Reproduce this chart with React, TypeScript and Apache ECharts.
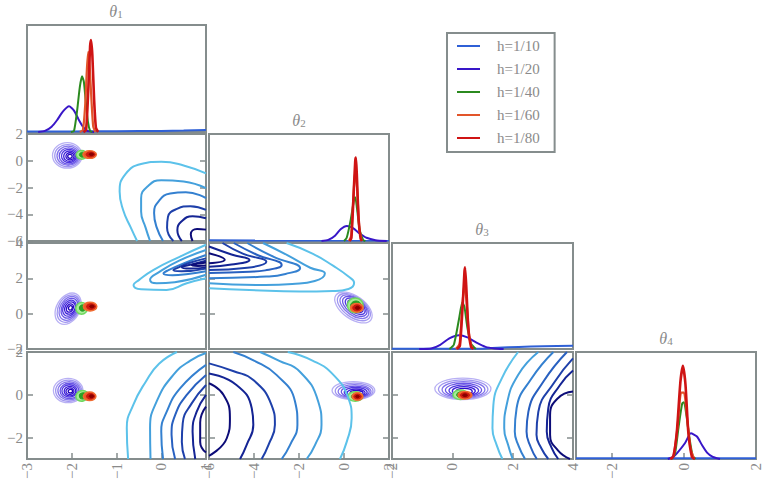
import React, { useEffect, useRef } from 'react';
import * as echarts from 'echarts';

// ---------- legend / series identities ----------
const H_NAMES = ['h=1/10', 'h=1/20', 'h=1/40', 'h=1/60', 'h=1/80'];
const H_COLORS = ['#2f60d6', '#3816c8', '#2b8a1f', '#e2552a', '#cf1414'];
const H_WIDTHS = [2, 2, 2, 2.2, 2.6];

// ---------- axis ranges per parameter ----------
const VAR_RANGE = [[-3, 1], [-6, 2], [-2, 4], [-3, 2]];
const VAR_STEP = [1, 2, 2, 2];
const TITLES = ['1', '2', '3', '4'];

// ---------- marginal densities (x, relative height) ----------
const M1_B = [[-3, 0.004], [-2, 0.005], [-1, 0.007], [0, 0.01], [0.5, 0.013], [1, 0.018]];
const M1_P = [[-2.75, 0], [-2.6, 0.01], [-2.45, 0.05], [-2.33, 0.11], [-2.2, 0.19], [-2.06, 0.24], [-1.95, 0.2], [-1.85, 0.12], [-1.75, 0.05], [-1.65, 0.01], [-1.5, 0]];
const M1_G = [[-2.02, 0], [-1.95, 0.01], [-1.88, 0.2], [-1.82, 0.42], [-1.77, 0.52], [-1.73, 0.47], [-1.69, 0.3], [-1.64, 0.1], [-1.59, 0.01], [-1.54, 0]];
const M1_O = [[-1.82, 0], [-1.75, 0.02], [-1.7, 0.25], [-1.66, 0.6], [-1.63, 0.75], [-1.6, 0.62], [-1.56, 0.3], [-1.52, 0.05], [-1.47, 0]];
const M1_R = [[-1.74, 0], [-1.68, 0.02], [-1.63, 0.4], [-1.59, 0.8], [-1.57, 0.86], [-1.54, 0.72], [-1.5, 0.3], [-1.46, 0.04], [-1.41, 0]];

const M2_B = [[-6, 0.006], [2, 0.004]];
const M2_P = [[-1.0, 0], [-0.7, 0.01], [-0.4, 0.05], [-0.15, 0.11], [0.13, 0.14], [0.4, 0.12], [0.7, 0.07], [1.0, 0.03], [1.4, 0.008], [1.9, 0]];
const M2_G = [[0.0, 0], [0.12, 0.03], [0.3, 0.2], [0.45, 0.39], [0.5, 0.41], [0.58, 0.3], [0.7, 0.1], [0.85, 0.01], [0.95, 0]];
const M2_O = [[0.22, 0], [0.32, 0.05], [0.42, 0.42], [0.5, 0.66], [0.58, 0.5], [0.68, 0.12], [0.78, 0]];
const M2_R = [[0.25, 0], [0.33, 0.03], [0.43, 0.45], [0.5, 0.75], [0.53, 0.78], [0.57, 0.62], [0.65, 0.2], [0.74, 0.02], [0.8, 0]];

const M3_B = [[-2, 0.002], [1.0, 0.003], [1.5, 0.012], [2.2, 0.02], [3, 0.026], [4, 0.03]];
const M3_P = [[-1.1, 0], [-0.7, 0.005], [-0.4, 0.04], [-0.1, 0.1], [0.22, 0.13], [0.5, 0.11], [0.8, 0.06], [1.1, 0.02], [1.4, 0.005], [1.7, 0]];
const M3_G = [[-0.1, 0], [0.05, 0.04], [0.22, 0.28], [0.33, 0.44], [0.4, 0.4], [0.5, 0.2], [0.62, 0.05], [0.78, 0]];
const M3_O = [[0.12, 0], [0.24, 0.05], [0.33, 0.4], [0.4, 0.62], [0.47, 0.45], [0.56, 0.12], [0.66, 0]];
const M3_R = [[0.15, 0], [0.25, 0.03], [0.34, 0.4], [0.4, 0.72], [0.42, 0.77], [0.46, 0.6], [0.53, 0.2], [0.62, 0.02], [0.7, 0]];

const M4_B = [[-3, 0.008], [2, 0.008]];
const M4_P = [[-0.45, 0], [-0.3, 0.02], [-0.18, 0.06], [0.03, 0.15], [0.19, 0.24], [0.36, 0.21], [0.5, 0.13], [0.64, 0.06], [0.8, 0.02], [1.0, 0]];
const M4_G = [[-0.35, 0], [-0.25, 0.05], [-0.15, 0.3], [-0.05, 0.52], [0.0, 0.53], [0.07, 0.4], [0.15, 0.2], [0.24, 0.03], [0.32, 0]];
const M4_O = [[-0.36, 0], [-0.28, 0.04], [-0.18, 0.3], [-0.08, 0.62], [0.0, 0.62], [0.08, 0.4], [0.18, 0.1], [0.28, 0]];
const M4_R = [[-0.38, 0], [-0.3, 0.02], [-0.2, 0.25], [-0.1, 0.72], [-0.03, 0.87], [0.04, 0.7], [0.12, 0.25], [0.22, 0.02], [0.3, 0]];

const MARGINALS = [
  [M1_B, M1_P, M1_G, M1_O, M1_R],
  [M2_B, M2_P, M2_G, M2_O, M2_R],
  [M3_B, M3_P, M3_G, M3_O, M3_R],
  [M4_B, M4_P, M4_G, M4_O, M4_R],
];

// ---------- h=1/10 contour levels (outer -> inner), per pair panel ----------
const C10 = [
  [[1, -0.95], [0.5, -0.35], [0, -0.08], [-0.45, -0.25], [-0.8, -1.0], [-0.93, -2.3], [-0.85, -3.7], [-0.68, -5.0], [-0.54, -6]],
  [[1, -2.05], [0.5, -1.55], [0, -1.45], [-0.3, -1.9], [-0.45, -2.8], [-0.45, -3.8], [-0.35, -5.0], [-0.25, -6]],
  [[1, -2.8], [0.55, -2.35], [0.2, -2.45], [-0.05, -3.0], [-0.16, -3.9], [-0.1, -5.0], [0.04, -6]],
  [[1, -3.68], [0.65, -3.4], [0.35, -3.6], [0.15, -4.2], [0.13, -5.0], [0.27, -6]],
  [[1, -4.3], [0.7, -4.15], [0.45, -4.55], [0.36, -5.2], [0.46, -6]],
  [[1, -5.15], [0.8, -5.1], [0.66, -5.5], [0.7, -6]],
];
const C20 = [
  [[1, 3.9], [0.42, 3.23], [-0.18, 2.47], [-0.5, 1.9], [-0.62, 1.62], [-0.45, 1.38], [0.12, 1.34], [0.57, 1.72], [1, 2.0]],
  [[1, 3.6], [0.4, 3.0], [-0.05, 2.35], [-0.25, 1.92], [-0.1, 1.72], [0.3, 1.78], [1, 2.2]],
  [[1, 3.32], [0.5, 2.85], [0.15, 2.45], [0.05, 2.28], [0.25, 2.18], [0.6, 2.25], [1, 2.4]],
  [[1, 3.13], [0.6, 2.85], [0.35, 2.58], [0.27, 2.47], [0.45, 2.4], [1, 2.55]],
  [[1, 3.0], [0.7, 2.8], [0.46, 2.63], [0.65, 2.55], [1, 2.62]],
  [[1, 2.9], [0.8, 2.82], [0.68, 2.75], [0.82, 2.7], [1, 2.72]],
];
const C30 = [
  [[0.35, 2], [-0.05, 1.45], [-0.35, 0.6], [-0.62, -0.45], [-0.77, -1.55], [-0.74, -3]],
  [[1, 1.95], [0.65, 1.6], [0.27, 0.93], [-0.1, -0.3], [-0.25, -1.55], [-0.24, -3]],
  [[1, 1.4], [0.42, 0.3], [0.12, -0.8], [0.0, -1.72], [0.04, -3]],
  [[1, 0.93], [0.57, 0], [0.31, -0.95], [0.23, -1.87], [0.31, -3]],
  [[1, 0.46], [0.68, -0.4], [0.48, -1.33], [0.46, -2.2], [0.53, -3]],
  [[1, 0], [0.79, -0.8], [0.7, -1.72], [0.76, -3]],
  [[1, -0.55], [0.87, -1.3], [0.87, -2.2], [1, -2.7]],
];
const C21 = [
  [[-2.55, 4], [-1.4, 3.4], [-0.47, 2.7], [0.2, 2.1], [0.45, 1.75], [0.2, 1.4], [-0.5, 1.28], [-1.96, 1.25], [-4.2, 1.34], [-6, 1.44]],
  [[-3.6, 4], [-2.5, 3.3], [-1.5, 2.6], [-0.85, 2.28], [-1.3, 1.85], [-2.3, 1.68], [-3.5, 1.62], [-6, 1.72]],
  [[-4.3, 4], [-3.1, 3.2], [-1.95, 2.57], [-2.6, 2.25], [-3.45, 2.1], [-6, 2.0]],
  [[-4.9, 4], [-3.9, 3.35], [-2.77, 2.76], [-3.5, 2.45], [-4.2, 2.37], [-6, 2.3]],
  [[-5.4, 4], [-4.5, 3.4], [-3.45, 2.94], [-4.3, 2.6], [-6, 2.47]],
  [[-6, 3.8], [-5, 3.35], [-4.2, 3.04], [-5, 2.78], [-6, 2.66]],
  [[-6, 3.42], [-5.3, 3.05], [-6, 2.85]],
];
const C31 = [
  [[-2.5, 2], [-1.4, 1.6], [-0.47, 0.93], [0.19, -0.15], [0.34, -1.1], [0.12, -2.2], [-0.18, -3]],
  [[-3.73, 2], [-2.9, 1.6], [-1.96, 1.08], [-1.15, -0.3], [-1.0, -1.4], [-1.29, -2.35], [-1.66, -3]],
  [[-4.92, 2], [-4, 1.6], [-3.0, 0.93], [-2.18, -0.3], [-2.07, -1.4], [-2.4, -2.35], [-2.77, -3]],
  [[-6, 1.47], [-4.9, 1.1], [-4.03, 0.69], [-3.22, -0.48], [-3.07, -1.4], [-3.36, -2.35], [-3.66, -3]],
  [[-6, 1.0], [-4.78, 0.46], [-4.1, -0.63], [-4.03, -1.4], [-4.33, -2.35], [-4.62, -3]],
  [[-6, 0.54], [-5.36, 0], [-5.07, -1.1], [-5.21, -2.03], [-6, -2.85]],
];
const C32 = [
  [[2.18, 2], [1.64, 0.77], [1.36, -0.48], [1.33, -1.56], [1.47, -2.35], [1.66, -3]],
  [[2.85, 2], [2.18, 0.93], [1.8, -0.48], [1.72, -1.56], [1.85, -2.35], [2.0, -3]],
  [[3.35, 2], [2.63, 0.77], [2.13, -0.63], [2.07, -1.72], [2.2, -2.4], [2.41, -3]],
  [[3.8, 2], [3.02, 0.62], [2.52, -0.8], [2.46, -1.72], [2.6, -2.45], [2.8, -3]],
  [[4, 1.7], [3.4, 0.62], [2.85, -0.8], [2.79, -1.87], [2.95, -2.5], [3.18, -3]],
  [[4, 1.14], [3.57, 0.46], [3.18, -0.63], [3.13, -1.72], [3.3, -2.5], [3.51, -3]],
  [[4, 0.15], [3.5, -0.16], [3.24, -0.95], [3.24, -1.87], [3.5, -2.6], [3.9, -3]],
];

// ---------- fine-h contour rings: [cx, cy, rx, ry, rotationDeg, level] ----------
const B10_P = [[-2.1, 0.4, 0.33, 0.95, 0, 0], [-2.09, 0.38, 0.29, 0.83, 0, 1], [-2.08, 0.37, 0.25, 0.72, 0, 2], [-2.07, 0.36, 0.21, 0.61, 0, 3], [-2.06, 0.35, 0.17, 0.5, 0, 4], [-2.05, 0.34, 0.13, 0.39, 0, 5], [-2.04, 0.33, 0.09, 0.27, 0, 6], [-2.04, 0.33, 0.05, 0.15, 0, 7]];
const B10_G = [[-1.78, 0.44, 0.12, 0.32, 0, 0], [-1.76, 0.45, 0.07, 0.19, 0, 1]];
const B10_R = [[-1.6, 0.46, 0.15, 0.28, 0, 0], [-1.58, 0.47, 0.1, 0.19, 0, 1], [-1.56, 0.48, 0.05, 0.1, 0, 2]];

const B20_P = [[-2.08, 0.28, 0.26, 0.95, -30, 0], [-2.07, 0.29, 0.23, 0.83, -30, 1], [-2.06, 0.3, 0.2, 0.72, -30, 2], [-2.05, 0.31, 0.17, 0.6, -30, 3], [-2.05, 0.31, 0.14, 0.48, -30, 4], [-2.04, 0.32, 0.11, 0.37, -30, 5], [-2.04, 0.32, 0.07, 0.25, -30, 6], [-2.03, 0.33, 0.04, 0.13, -30, 7]];
const B20_G = [[-1.78, 0.3, 0.13, 0.33, 0, 0], [-1.76, 0.32, 0.07, 0.18, 0, 1]];
const B20_R = [[-1.59, 0.4, 0.15, 0.25, 0, 0], [-1.57, 0.4, 0.1, 0.16, 0, 1], [-1.55, 0.41, 0.05, 0.08, 0, 2]];

const B30_P = [[-2.08, 0.2, 0.33, 0.57, 0, 0], [-2.07, 0.19, 0.29, 0.5, 0, 1], [-2.06, 0.19, 0.25, 0.43, 0, 2], [-2.05, 0.18, 0.21, 0.36, 0, 3], [-2.05, 0.18, 0.17, 0.29, 0, 4], [-2.04, 0.17, 0.13, 0.22, 0, 5], [-2.04, 0.17, 0.09, 0.15, 0, 6], [-2.03, 0.17, 0.05, 0.08, 0, 7]];
const B30_G = [[-1.77, -0.05, 0.14, 0.24, 20, 0], [-1.75, -0.05, 0.08, 0.14, 20, 1]];
const B30_R = [[-1.6, -0.07, 0.14, 0.2, 0, 0], [-1.58, -0.07, 0.09, 0.13, 0, 1], [-1.56, -0.07, 0.05, 0.07, 0, 2]];

const B21_P = [[0.42, 0.35, 0.95, 0.65, -35, 0], [0.44, 0.37, 0.84, 0.57, -35, 1], [0.46, 0.39, 0.73, 0.49, -35, 2], [0.48, 0.41, 0.62, 0.42, -35, 3], [0.5, 0.42, 0.51, 0.34, -35, 4], [0.51, 0.43, 0.4, 0.27, -35, 5], [0.52, 0.44, 0.29, 0.19, -35, 6], [0.53, 0.45, 0.18, 0.12, -35, 7]];
const B21_G = [[0.5, 0.47, 0.35, 0.42, 0, 0], [0.53, 0.44, 0.24, 0.28, 0, 1]];
const B21_R = [[0.57, 0.33, 0.28, 0.25, 0, 0], [0.58, 0.33, 0.19, 0.17, 0, 1], [0.6, 0.33, 0.1, 0.09, 0, 2]];

const B31_P = [[0.42, 0.2, 0.95, 0.42, 0, 0], [0.45, 0.18, 0.84, 0.37, 0, 1], [0.47, 0.16, 0.73, 0.32, 0, 2], [0.5, 0.14, 0.62, 0.27, 0, 3], [0.52, 0.12, 0.51, 0.22, 0, 4], [0.54, 0.1, 0.4, 0.17, 0, 5], [0.56, 0.08, 0.29, 0.12, 0, 6]];
const B31_G = [[0.5, -0.08, 0.33, 0.22, 0, 0], [0.55, -0.08, 0.22, 0.15, 0, 1]];
const B31_R = [[0.6, -0.08, 0.24, 0.17, 0, 0], [0.6, -0.08, 0.16, 0.11, 0, 1], [0.6, -0.08, 0.08, 0.06, 0, 2]];

const B32_P = [[0.35, 0.28, 0.93, 0.5, 0, 0], [0.36, 0.26, 0.82, 0.44, 0, 1], [0.37, 0.24, 0.71, 0.38, 0, 2], [0.37, 0.22, 0.6, 0.32, 0, 3], [0.38, 0.2, 0.49, 0.26, 0, 4], [0.38, 0.18, 0.38, 0.2, 0, 5], [0.39, 0.16, 0.27, 0.14, 0, 6]];
const B32_G = [[0.27, 0.0, 0.25, 0.22, 0, 0], [0.3, 0.0, 0.16, 0.14, 0, 1]];
const B32_R = [[0.42, -0.02, 0.23, 0.18, 0, 0], [0.42, -0.02, 0.15, 0.12, 0, 1], [0.42, -0.02, 0.08, 0.06, 0, 2]];

const PAIRS: Record<string, any> = {
  '10': { c: C10, p: B10_P, g: B10_G, r: B10_R },
  '20': { c: C20, p: B20_P, g: B20_G, r: B20_R },
  '30': { c: C30, p: B30_P, g: B30_G, r: B30_R },
  '21': { c: C21, p: B21_P, g: B21_G, r: B21_R },
  '31': { c: C31, p: B31_P, g: B31_G, r: B31_R },
  '32': { c: C32, p: B32_P, g: B32_G, r: B32_R },
};

// ---------- styling / layout ----------
const FONT = 'Liberation Serif';
const GREY = '#8a8a8a';
const SPINE = '#858d8d';
const COLS = [[27, 206], [209, 389], [392, 573], [576, 756]];
const ROWS = [[25, 132], [134, 241], [243, 349], [352, 459]];
const TITLE_POS = [[116, 11], [299, 120], [482, 229], [666, 338]];
const BLUE_PAL = ['#5cc2ea', '#44a0dc', '#3480d0', '#2860c0', '#1e40aa', '#142494', '#0c0c78'];
const RING_STYLE: Record<string, any[]> = {
  p: [
    { stroke: '#b8b0f4', w: 1.3 },
    { stroke: '#a096f0', w: 1.3 },
    { stroke: '#8576ec', w: 1.3 },
    { stroke: '#6a56e6', w: 1.3 },
    { stroke: '#5038e0', w: 1.3 },
    { stroke: '#3a1cd8', w: 1.3 },
    { stroke: '#2a08cc', w: 1.3 },
    { stroke: '#2000b8', w: 1.3 },
  ],
  g: [
    { stroke: '#6fd860', fill: '#a8ec98', w: 1.5 },
    { stroke: '#2aa025', fill: '#2aa025', w: 1 },
  ],
  r: [
    { stroke: '#f06a30', fill: '#ec5a26', w: 1.5 },
    { stroke: '#cc1810', fill: '#cc1810', w: 1 },
    { stroke: '#8a0000', fill: '#8a0000', w: 1 },
  ],
};

const fmt = (v: number) => (v < 0 ? '\u2212' + Math.abs(v) : String(v));

function valueAxis(g: number, v: number, position: string, showLabel: boolean, showTick: boolean, isX: boolean) {
  const [mn, mx] = VAR_RANGE[v];
  const step = VAR_STEP[v];
  const aligned = mn % step === 0;
  const ax: any = {
    type: 'value',
    gridIndex: g,
    position,
    min: mn,
    max: mx,
    axisLine: { show: false, onZero: false },
    splitLine: { show: false },
    axisTick: { show: showTick, inside: true, length: 6, lineStyle: { color: SPINE, width: 1.5 } },
    axisLabel: {
      show: showLabel,
      color: GREY,
      fontFamily: FONT,
      fontSize: 15,
      margin: 4,
      rotate: isX ? 90 : 0,
      formatter: fmt,
      showMinLabel: aligned,
      showMaxLabel: true,
      hideOverlap: false,
    },
  };
  if (aligned) {
    ax.interval = step;
  } else {
    ax.minInterval = step;
    ax.maxInterval = step;
    ax.splitNumber = 3;
  }
  return ax;
}

function ringRenderer(fam: string) {
  return (params: any, api: any) => {
    const c = api.coord([api.value(0), api.value(1)]);
    const s = api.size([api.value(2), api.value(3)]);
    const st = RING_STYLE[fam][api.value(5)];
    return {
      type: 'ellipse',
      x: c[0],
      y: c[1],
      rotation: (api.value(4) * Math.PI) / 180,
      shape: { cx: 0, cy: 0, rx: s[0], ry: s[1] },
      style: { fill: st.fill || 'none', stroke: st.stroke, lineWidth: st.w },
    };
  };
}

function buildOption() {
  const grids: any[] = [];
  const xAxes: any[] = [];
  const yAxes: any[] = [];
  const series: any[] = [];
  const graphic: any[] = [];
  let g = 0;
  for (let i = 0; i < 4; i++) {
    for (let j = 0; j <= i; j++) {
      const [x0, x1] = COLS[j];
      const [y0, y1] = ROWS[i];
      grids.push({ left: x0, top: y0, width: x1 - x0, height: y1 - y0, show: true, borderColor: SPINE, borderWidth: 2, backgroundColor: 'transparent' });
      xAxes.push(valueAxis(g, j, 'bottom', i === 3, i === 3, true));
      const yIdx = yAxes.length;
      if (i === j) {
        yAxes.push({ type: 'value', gridIndex: g, min: 0, max: 1, show: false, axisLine: { onZero: false } });
        MARGINALS[i].forEach((d, k) => {
          series.push({
            type: 'line', name: H_NAMES[k], xAxisIndex: g, yAxisIndex: yIdx, data: d,
            showSymbol: false, symbol: 'none', smooth: 0.2, silent: true,
            lineStyle: { color: H_COLORS[k], width: H_WIDTHS[k] }, itemStyle: { color: H_COLORS[k] },
          });
        });
      } else {
        yAxes.push(valueAxis(g, i, 'left', j === 0, true, false));
        yAxes.push(valueAxis(g, i, 'right', false, true, false));
        const pair = PAIRS[`${i}${j}`];
        const n = pair.c.length;
        pair.c.forEach((line: number[][], k: number) => {
          const col = BLUE_PAL[Math.round((k * 6) / (n - 1))];
          series.push({
            type: 'line', xAxisIndex: g, yAxisIndex: yIdx, data: line,
            showSymbol: false, symbol: 'none', smooth: 0.5, silent: true, clip: true,
            lineStyle: { color: col, width: 2 }, itemStyle: { color: col },
          });
        });
        ['p', 'g', 'r'].forEach((fam) => {
          series.push({
            type: 'custom', xAxisIndex: g, yAxisIndex: yIdx, data: pair[fam],
            encode: { x: 0, y: 1 }, silent: true, clip: true,
            renderItem: ringRenderer(fam),
          });
        });
      }
      g++;
    }
  }
  TITLES.forEach((t, k) => {
    graphic.push({
      type: 'text', x: TITLE_POS[k][0], y: TITLE_POS[k][1],
      style: {
        text: `{a|\u03b8}{b|${t}}`, align: 'center', verticalAlign: 'middle',
        rich: {
          a: { fontFamily: FONT, fontStyle: 'italic', fontSize: 16, fill: GREY, verticalAlign: 'bottom' },
          b: { fontFamily: FONT, fontSize: 11, fill: GREY, verticalAlign: 'bottom' },
        },
      },
    });
  });
  return {
    animation: false,
    grid: grids,
    xAxis: xAxes,
    yAxis: yAxes,
    series,
    graphic,
    legend: {
      data: H_NAMES,
      orient: 'vertical',
      left: 447,
      top: 33,
      padding: [5, 15, 6, 10],
      itemWidth: 23,
      itemHeight: 2,
      itemGap: 7,
      icon: 'rect',
      borderColor: SPINE,
      borderWidth: 2,
      selectedMode: false,
      textStyle: { color: GREY, fontFamily: FONT, fontSize: 15, lineHeight: 16, padding: [0, 0, 0, 12] },
    },
  };
}

export default function App() {
  const ref = useRef<HTMLDivElement>(null);
  useEffect(() => {
    const chart = echarts.init(ref.current as HTMLDivElement, null, { renderer: 'svg' });
    chart.setOption(buildOption() as any);
    return () => chart.dispose();
  }, []);
  return <div ref={ref} style={{ position: 'absolute', left: 0, top: 0, width: 765, height: 487 }} />;
}
